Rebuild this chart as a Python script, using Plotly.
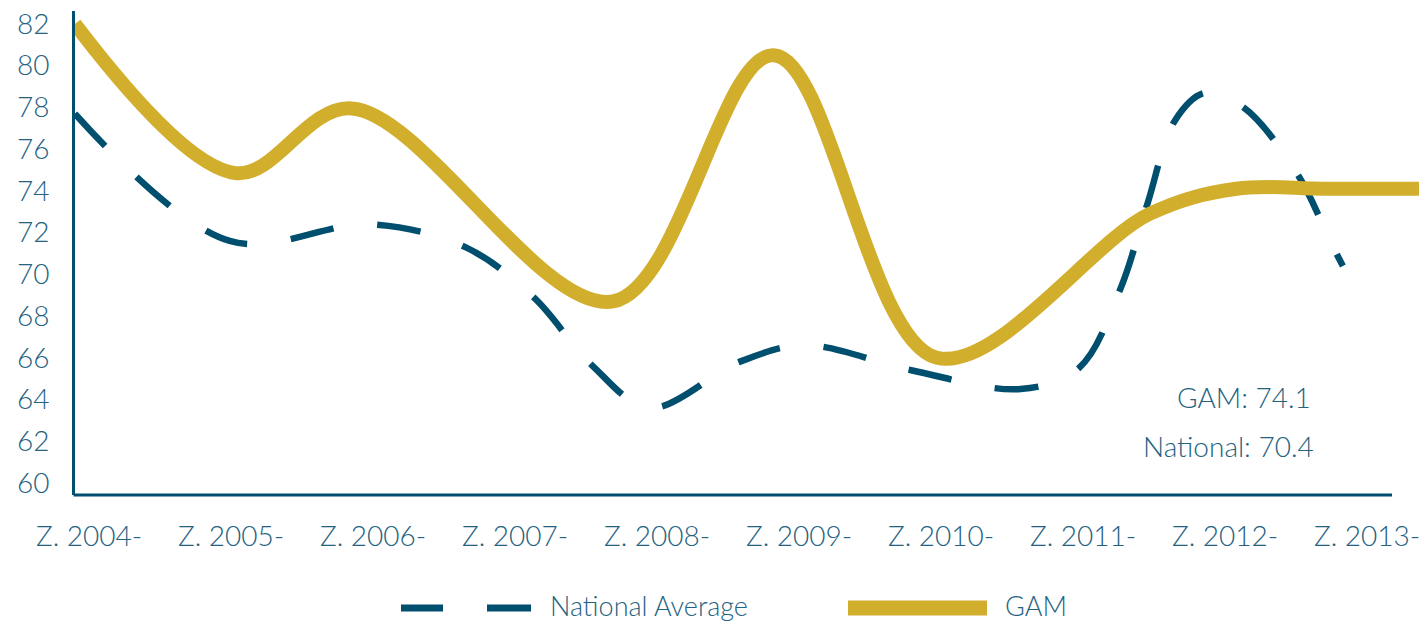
import plotly.graph_objects as go

# Period positions (fractional years) and values for each series
gam_x = [2003.90, 2005.03, 2005.85, 2007.69, 2008.82, 2009.97,
         2011.47, 2012.08, 2012.70, 2013.39]
gam_y = [82.0, 74.85, 77.95, 68.7, 80.5, 66.0,
         72.9, 74.1, 74.1, 74.1]

nat_x = [2003.90, 2004.99, 2005.98, 2006.65, 2007.13, 2007.54, 2007.95,
         2008.58, 2009.04, 2009.79, 2010.56, 2010.97, 2011.26, 2011.45,
         2011.65, 2011.86, 2012.13, 2012.51, 2012.75, 2012.83]
nat_y = [77.7, 71.6, 72.4, 71.3, 68.9, 65.65, 63.6,
         65.8, 66.6, 65.4, 64.5, 65.5, 69.25, 73.3,
         77.4, 78.7, 78.0, 74.8, 71.45, 70.4]

tick_years = [2004, 2005, 2006, 2007, 2008, 2009, 2010, 2011, 2012, 2013]
tick_text = ["Z. 2004-", "Z. 2005-", "Z. 2006-", "Z. 2007-", "Z. 2008-",
             "Z. 2009-", "Z. 2010-", "Z. 2011-", "Z. 2012-", "Z. 2013-"]
y_ticks = [60, 62, 64, 66, 68, 70, 72, 74, 76, 78, 80, 82]

NAVY = "#004f6e"
GOLD = "#d2ae2d"
TEXT = "#24627f"
FONT = "Lato"

W, H = 1419, 622
ML, MR, MT, MB = 75, 0, 11, 127
PW, PH = W - ML - MR, H - MT - MB


def px(x):
    return (x - ML) / PW


def py(y):
    return (H - MB - y) / PH


fig = go.Figure()
fig.add_trace(go.Scatter(
    x=nat_x, y=nat_y, mode="lines", name="National Average",
    line=dict(color=NAVY, width=6.5, dash="44px,44px", shape="spline", smoothing=1.0),
    hoverinfo="skip"))
fig.add_trace(go.Scatter(
    x=gam_x, y=gam_y, mode="lines", name="GAM",
    line=dict(color=GOLD, width=14, shape="spline", smoothing=1.0),
    hoverinfo="skip"))

shapes = [
    # horizontal axis line (stops short of the right edge)
    dict(type="line", xref="paper", yref="paper", x0=px(73.5), x1=px(1392),
         y0=0, y1=0, line=dict(color=NAVY, width=3)),
    # legend swatches
    dict(type="line", xref="paper", yref="paper", x0=px(401), x1=px(443),
         y0=py(608), y1=py(608), line=dict(color=NAVY, width=7)),
    dict(type="line", xref="paper", yref="paper", x0=px(487), x1=px(531),
         y0=py(608), y1=py(608), line=dict(color=NAVY, width=7)),
    dict(type="line", xref="paper", yref="paper", x0=px(848), x1=px(987),
         y0=py(608), y1=py(608), line=dict(color=GOLD, width=15)),
]

legend_font = dict(family=FONT, size=27, color=TEXT, weight=300)
label_font = dict(family=FONT, size=28, color=TEXT, weight=300)

annotations = [
    dict(text="National Average", xref="paper", yref="paper", x=px(548), y=py(605),
         xanchor="left", yanchor="middle", showarrow=False, font=legend_font),
    dict(text="GAM", xref="paper", yref="paper", x=px(1003), y=py(605),
         xanchor="left", yanchor="middle", showarrow=False, font=legend_font),
    dict(text=f"GAM: {gam_y[-1]}", xref="paper", yref="paper", x=px(1244), y=py(397),
         xanchor="center", yanchor="middle", showarrow=False, font=label_font),
    dict(text=f"National: {nat_y[-1]}", xref="paper", yref="paper", x=px(1228), y=py(446),
         xanchor="center", yanchor="middle", showarrow=False, font=label_font),
]

fig.update_layout(
    width=W, height=H, autosize=False,
    margin=dict(l=ML, r=MR, t=MT, b=MB, pad=0),
    paper_bgcolor="white", plot_bgcolor="white",
    showlegend=False,
    shapes=shapes, annotations=annotations,
    xaxis=dict(range=[2003.901, 2013.366], tickmode="array", tickvals=tick_years,
               ticktext=tick_text, showgrid=False, zeroline=False, showline=False,
               ticks="", ticklabelstandoff=22, ticklabeloverflow="allow",
               tickfont=label_font),
    yaxis=dict(range=[59.42, 82.62], tickmode="array", tickvals=y_ticks,
               showgrid=False, zeroline=False, showline=True, linecolor=NAVY,
               linewidth=3, ticks="", ticklabelstandoff=17,
               tickfont=label_font),
)

fig.write_html("out.html")
